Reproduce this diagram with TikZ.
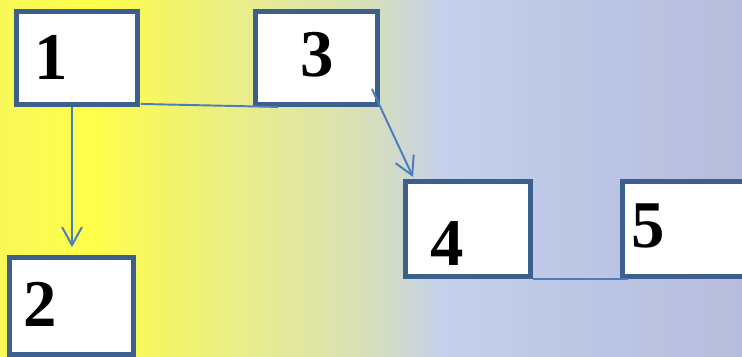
\documentclass[tikz,border=0pt]{standalone}
\usepackage{fontspec}
\setmainfont{Liberation Serif}
\usetikzlibrary{arrows.meta}
\definecolor{bgA}{HTML}{F8F858}
\definecolor{bgB}{HTML}{FFFF4A}
\definecolor{bgC}{HTML}{F4F566}
\definecolor{bgD}{HTML}{E8EC8E}
\definecolor{bgE}{HTML}{D6DFBC}
\definecolor{bgF}{HTML}{C4D0EC}
\definecolor{bgG}{HTML}{BCC6E4}
\definecolor{bgH}{HTML}{B8BCDC}
\definecolor{boxline}{HTML}{3D5F8E}
\definecolor{linkline}{HTML}{4A7CC0}
\pgfdeclarehorizontalshading{slidebg}{100bp}{color(0bp)=(bgA); color(25bp)=(bgA); color(31bp)=(bgB); color(36bp)=(bgC); color(42bp)=(bgD); color(50bp)=(bgE); color(55bp)=(bgF); color(65bp)=(bgG); color(75bp)=(bgH); color(100bp)=(bgH)}
\tikzset{
  numbox/.style={draw=boxline, line width=2.8pt, fill=white, inner sep=0pt},
  numtext/.style={font=\bfseries\fontsize{38}{40}\selectfont, inner sep=0pt},
  link/.style={draw=linkline, line width=1.1pt},
  tip/.style={-{Straight Barb[length=0.36cm, width=0.4cm, line width=1.1pt]}}
}
\begin{document}
\begin{tikzpicture}[x=0.02cm, y=-0.02cm]
\clip (0,0) rectangle (742,357);
\shade[shading=slidebg] (0,0) rectangle (742,357);
\useasboundingbox (0,0) rectangle (742,357);
% boxes
\node[numbox, minimum width=2.42cm, minimum height=1.86cm] (b1) at (77,58) {};
\node[numbox, minimum width=2.44cm, minimum height=1.86cm] (b3) at (316.5,58) {};
\node[numbox, minimum width=2.48cm, minimum height=1.94cm] (b2) at (71.5,306) {};
\node[numbox, minimum width=2.5cm, minimum height=1.9cm] (b4) at (468,229) {};
\node[numbox, minimum width=2.5cm, minimum height=1.9cm] (b5) at (685,229) {};
% numbers
\node[numtext] (n1) at (51.5,57) {1};
\node[numtext] (n2) at (40,304) {2};
\node[numtext] (n3) at (317,55) {3};
\node[numtext] (n4) at (447,244) {4};
\node[numtext] (n5) at (648,226) {5};
% links
\draw[link, tip, shorten >=0.16cm] ([xshift=-0.1cm]b1.south) -- ([xshift=0.01cm]b2.north);
\draw[link] ([shift={(1,-3)}]b1.south east) -- ([shift={(25,0)}]b3.south west);
\draw[link, tip] ([shift={(-8,31)}]b3.east) -- ([shift={(10,-2)}]b4.north west);
\draw[link] (b4.south east) -- ([xshift=0.16cm]b5.south west);
\end{tikzpicture}
\end{document}
